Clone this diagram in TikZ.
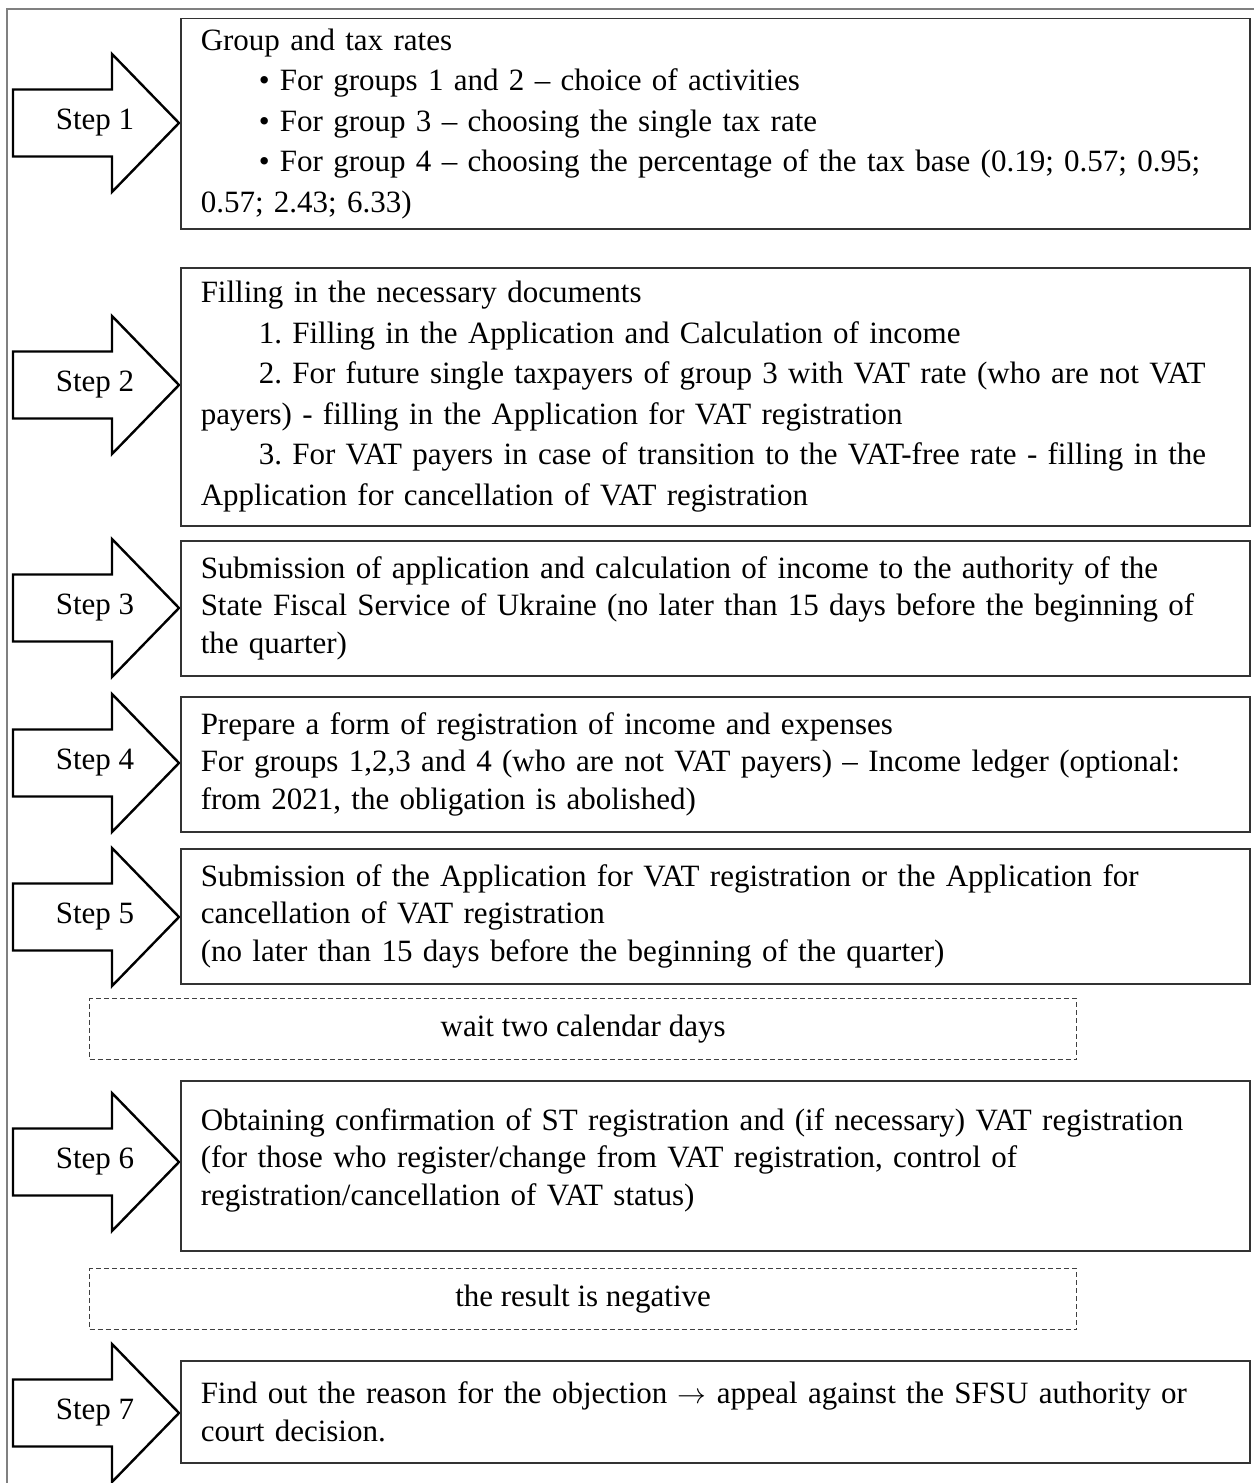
\documentclass[tikz,border=0pt]{standalone}
\usepackage{fontspec}
\setmainfont{Liberation Serif}
\usetikzlibrary{positioning}

\begin{document}
\begin{tikzpicture}[x=0.5pt, y=-0.5pt,
  every node/.style={font=\fontsize{15.5pt}{18.75pt}\selectfont\frenchspacing},
  stepbox/.style={draw=black!80, line width=0.75pt, anchor=north west,
    minimum width=534.5pt, text width=514.5pt, inner xsep=10pt, align=left},
  widelines/.style={font=\fontsize{15.5pt}{20.25pt}\selectfont\frenchspacing},
  waitbox/.style={draw=black!75, dash pattern=on 2.5pt off 1.5pt,
    line width=0.6pt, anchor=north west, minimum width=493.5pt,
    minimum height=30.5pt},
  steparrow/.style={draw=black, line width=1.2pt, fill=white},
  frameline/.style={draw=black!50, line width=1pt}]
\useasboundingbox (0,0) rectangle (1254,1483); % fix page size

\draw [frameline] (7,1483) -- (7,9) -- (1254,9);

% the seven steps
\foreach \n/\ty in {1/123,2/385,3/608,4/763,5/917,6/1162,7/1413}
  {
  \draw [steparrow] (179,\ty) -- ++(-67,-69) -- ++(0,35.5) -- ++(-99,0)
        -- ++(0,67) -- ++(99,0) -- ++(0,35.5) -- cycle;
  \node (step\n) at (95,\ty) {Step \n};
  }

\node [stepbox, widelines, minimum height=105.2pt] (box1) at (180,17.7)
  {Group and tax rates\\
   \hspace*{29pt}• For groups 1 and 2 – choice of activities\\
   \hspace*{29pt}• For group 3 – choosing the single tax rate\\
   \hspace*{29pt}• For group 4 – choosing the percentage of the tax base (0.19; 0.57; 0.95;\\
   0.57; 2.43; 6.33)};
\node [stepbox, widelines, minimum height=129pt] (box2) at (180,267)
  {Filling in the necessary documents\\
   \hspace*{29pt}1. Filling in the Application and Calculation of income\\
   \hspace*{29pt}2. For future single taxpayers of group 3 with VAT rate (who are not VAT\\
   payers) - filling in the Application for VAT registration\\
   \hspace*{29pt}3. For VAT payers in case of transition to the VAT-free rate - filling in the\\
   Application for cancellation of VAT registration};
\node [stepbox, minimum height=67.5pt] (box3) at (180,540)
  {Submission of application and calculation of income to the authority of the\\
   State Fiscal Service of Ukraine (no later than 15 days before the beginning of\\
   the quarter)};
\node [stepbox, minimum height=67.5pt] (box4) at (180,696)
  {Prepare a form of registration of income and expenses\\
   For groups 1,2,3 and 4 (who are not VAT payers) – Income ledger (optional:\\
   from 2021, the obligation is abolished)};
\node [stepbox, minimum height=67.5pt] (box5) at (180,848)
  {Submission of the Application for VAT registration or the Application for\\
   cancellation of VAT registration\\
   (no later than 15 days before the beginning of the quarter)};
\node [waitbox] (wait) at (89,998) {wait two calendar days};
\node [stepbox, minimum height=85pt] (box6) at (180,1080)
  {Obtaining confirmation of ST registration and (if necessary) VAT registration\\
   (for those who register/change from VAT registration, control of\\
   registration/cancellation of VAT status)\\[-10pt]\mbox{}};
\node [waitbox] (negative) at (89,1268) {the result is negative};
\node [stepbox, minimum height=51pt] (box7) at (180,1360)
  {Find out the reason for the objection $\rightarrow$ appeal against the SFSU authority or\\
   court decision.};
\end{tikzpicture}
\end{document}
